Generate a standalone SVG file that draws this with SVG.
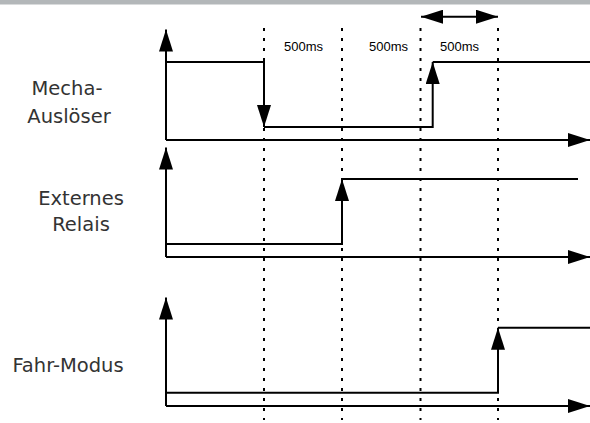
<svg xmlns="http://www.w3.org/2000/svg" width="590" height="423" viewBox="0 0 590 423">
<style>
.ln{fill:none;stroke:#000;stroke-width:2}
.dot{fill:none;stroke:#000;stroke-width:2;stroke-dasharray:3 7}
.lbl{font-family:"DejaVu Sans",Verdana,sans-serif;font-size:19.5px;fill:#333;text-anchor:middle}
.ms{font-family:"Liberation Sans",Arial,sans-serif;font-size:13px;fill:#000;text-anchor:middle}
</style>
<defs>
<marker id="ah" markerWidth="22" markerHeight="14" refX="22" refY="7" orient="auto-start-reverse" markerUnits="userSpaceOnUse" viewBox="0 0 22 14">
<path d="M0,0 L22,7 L0,14 z" fill="#000"/>
</marker>
</defs>
<rect x="0" y="0" width="590" height="4.5" fill="#b3b7b9"/>
<g id="grid">
<line class="dot" x1="264" y1="28" x2="264" y2="420"/>
<line class="dot" x1="342" y1="28" x2="342" y2="420"/>
<line class="dot" x1="420.5" y1="28" x2="420.5" y2="420"/>
<line class="dot" x1="498" y1="28" x2="498" y2="420"/>
</g>
<g id="timing">
<line class="ln" x1="421" y1="16.7" x2="498" y2="16.7" marker-start="url(#ah)" marker-end="url(#ah)"/>
<text class="ms" x="303.5" y="51">500ms</text>
<text class="ms" x="388.5" y="51">500ms</text>
<text class="ms" x="459.5" y="51">500ms</text>
</g>
<g id="mecha">
<text class="lbl" x="67" y="95">Mecha-</text>
<text class="lbl" x="69" y="123">Auslöser</text>
<path class="ln" d="M166,140 V29.5" marker-end="url(#ah)"/>
<path class="ln" d="M166,140 H590" marker-end="url(#ah)"/>
</g>
<g id="relais">
<text class="lbl" x="81" y="205">Externes</text>
<text class="lbl" x="81" y="231">Relais</text>
<path class="ln" d="M166,257 V147.5" marker-end="url(#ah)"/>
<path class="ln" d="M166,257 H590" marker-end="url(#ah)"/>
</g>
<g id="fahr">
<text class="lbl" x="68" y="372">Fahr-Modus</text>
<path class="ln" d="M166,406 V297.5" marker-end="url(#ah)"/>
<path class="ln" d="M166,406 H590" marker-end="url(#ah)"/>
</g>
<g id="connectors">
<path class="ln" d="M166,62 H264 V127" marker-end="url(#ah)"/>
<path class="ln" d="M264,127 H432.7 V62" marker-end="url(#ah)"/>
<path class="ln" d="M432.7,62 H590"/>
<path class="ln" d="M166,244 H342 V179" marker-end="url(#ah)"/>
<path class="ln" d="M342,179 H578"/>
<path class="ln" d="M166,392.7 H498 V327.7" marker-end="url(#ah)"/>
<path class="ln" d="M498,327.7 H590"/>
</g>
</svg>
